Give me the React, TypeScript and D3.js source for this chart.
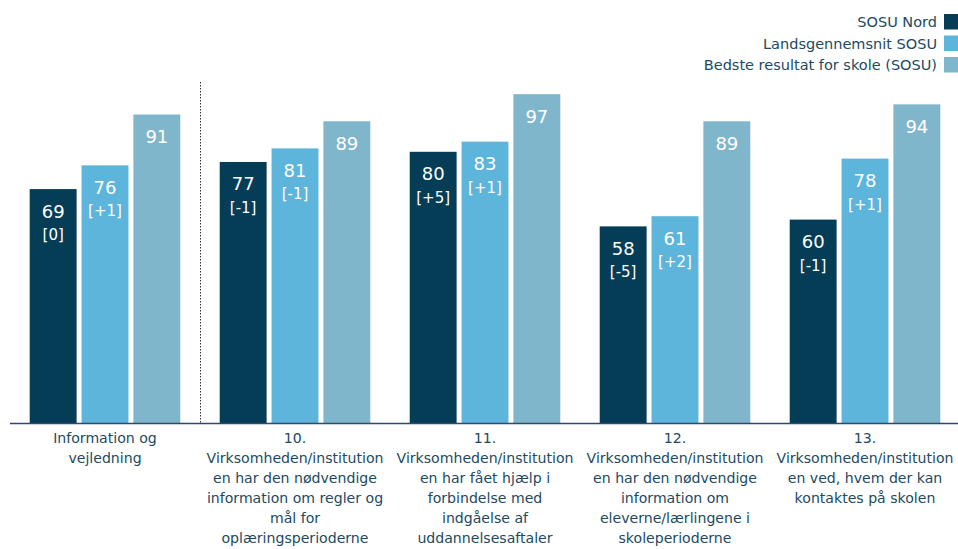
import React from "react";
import * as d3 from "d3";

const categories = [
  ["Information og", "vejledning"],
  ["10.", "Virksomheden/institution", "en har den nødvendige", "information om regler og", "mål for", "oplæringsperioderne"],
  ["11.", "Virksomheden/institution", "en har fået hjælp i", "forbindelse med", "indgåelse af", "uddannelsesaftaler"],
  ["12.", "Virksomheden/institution", "en har den nødvendige", "information om", "eleverne/lærlingene i", "skoleperioderne"],
  ["13.", "Virksomheden/institution", "en ved, hvem der kan", "kontaktes på skolen"],
];
const seriesNames = ["SOSU Nord", "Landsgennemsnit SOSU", "Bedste resultat for skole (SOSU)"];
const sosuNord = [69, 77, 80, 58, 60];
const sosuNordDelta = ["[0]", "[-1]", "[+5]", "[-5]", "[-1]"];
const lands = [76, 81, 83, 61, 78];
const landsDelta = ["[+1]", "[-1]", "[+1]", "[+2]", "[+1]"];
const best = [91, 89, 97, 89, 94];
const colors = ["#053D56", "#5DB5DB", "#80B6CB"];

const W = 958;
const H = 549;
const FONT = "'DejaVu Sans', Verdana, sans-serif";
const TEXT = "#1B4A62";

export default function App() {
  const x = d3.scaleBand<number>().domain(d3.range(categories.length)).range([10, 960]);
  const xi = d3.scaleBand<number>().domain([0, 1, 2]).range([0, x.bandwidth()]).paddingInner(0.095).paddingOuter(0.38);
  const y = d3.scaleLinear().domain([0, 100]).range([423, 84]);
  const series = [
    { values: sosuNord, deltas: sosuNordDelta },
    { values: lands, deltas: landsDelta },
    { values: best, deltas: null as string[] | null },
  ];
  return (
    <svg width={W} height={H} style={{ position: "absolute", left: 0, top: 0, background: "#fff" }} fontFamily={FONT}>
      {series.map((s, si) =>
        s.values.map((v, ci) => {
          const bx = (x(ci) as number) + (xi(si) as number);
          const bw = xi.bandwidth();
          const top = y(v);
          return (
            <g key={`${si}-${ci}`}>
              <rect x={bx} y={top} width={bw} height={y(0) - top} fill={colors[si]} />
              <text x={bx + bw / 2} y={top + 28.5} textAnchor="middle" fill="#fff" fontSize={18}>{v}</text>
              {s.deltas && (
                <text x={bx + bw / 2} y={top + 51} textAnchor="middle" fill="#fff" fontSize={15}>{s.deltas[ci]}</text>
              )}
            </g>
          );
        })
      )}
      <line x1={10} x2={958} y1={y(0) + 0.5} y2={y(0) + 0.5} stroke="#2C4A6B" strokeWidth={1.5} />
      <line x1={200.5} x2={200.5} y1={82} y2={y(0)} stroke="#333" strokeWidth={1} strokeDasharray="1.5,1.5" />
      {categories.map((lines, ci) => (
        <text key={ci} x={(x(ci) as number) + x.bandwidth() / 2} y={443} textAnchor="middle" fill={TEXT} fontSize={14.1}>
          {lines.map((l, li) => (
            <tspan key={li} x={(x(ci) as number) + x.bandwidth() / 2} dy={li === 0 ? 0 : 20}>{l}</tspan>
          ))}
        </text>
      ))}
      {seriesNames.map((n, i) => (
        <g key={n}>
          <text x={937} y={22 + i * 21.5} dy="0.35em" textAnchor="end" fill={TEXT} fontSize={14.5}>{n}</text>
          <rect x={944} y={14 + i * 21.5} width={15} height={15.5} fill={colors[i]} />
        </g>
      ))}
    </svg>
  );
}
